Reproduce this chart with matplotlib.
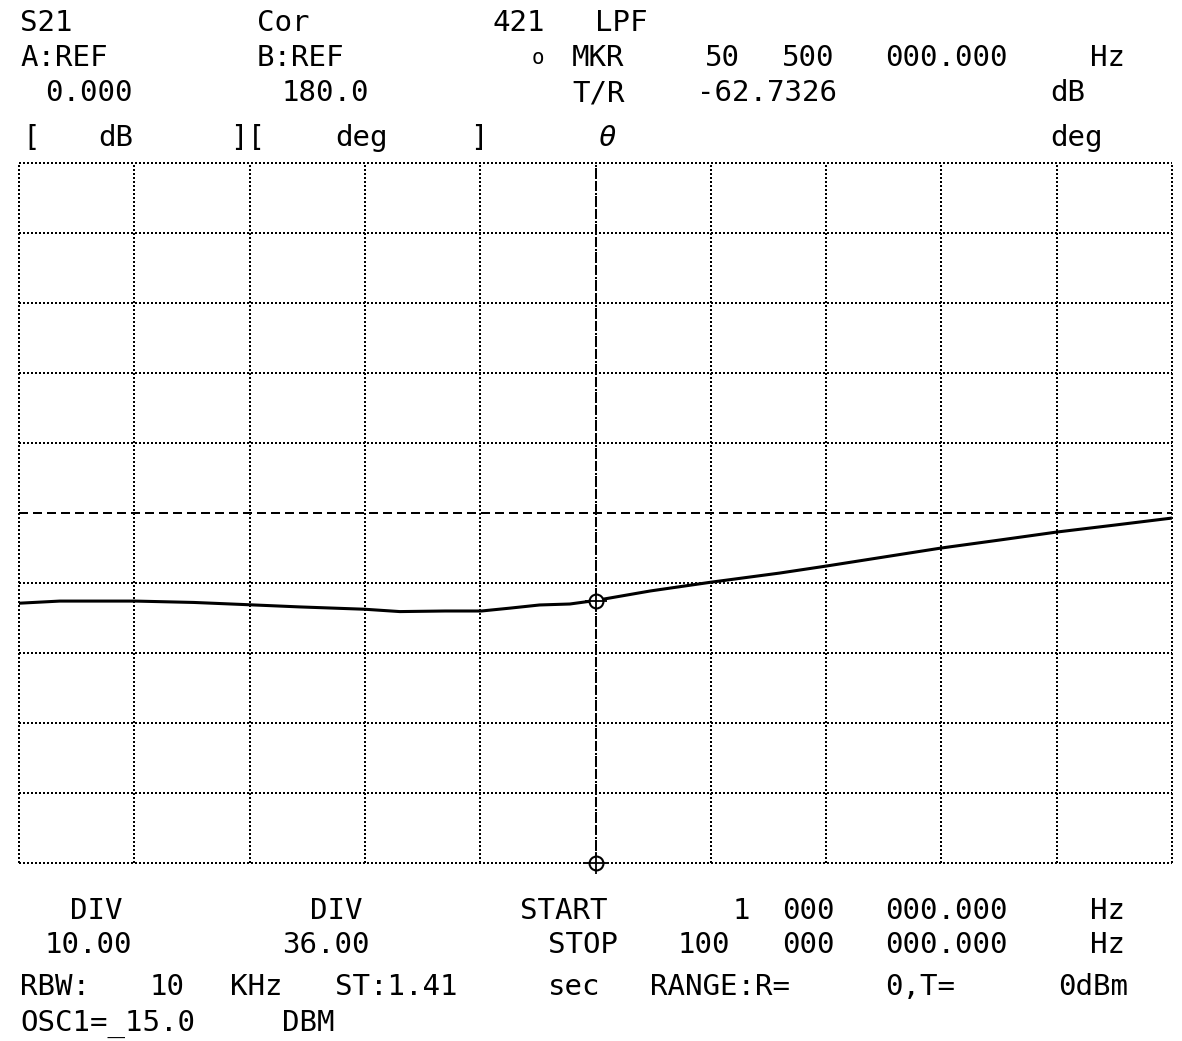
import matplotlib
matplotlib.use("Agg")
import matplotlib.pyplot as plt
import numpy as np

freq_mhz = [1, 4.5, 11, 16, 20.8, 25.1, 30.7, 33.7, 37.6, 40.7, 43.2, 45.7, 48.3,
            50.5, 55.2, 60.4, 66.3, 70.3, 75.3, 80.2, 85.2, 90.1, 95.1, 100]
phase_deg = [133.6, 134.7, 134.7, 134.0, 132.8, 131.7, 130.5, 129.3, 129.6, 129.6,
             131.1, 132.7, 133.2, 135.0, 139.9, 144.4, 149.1, 152.7, 157.4, 162.0,
             166.1, 170.2, 173.8, 177.4]
marker_mhz = 50.5
marker_deg = 135.0
start_mhz, stop_mhz = 1, 100
ref_deg, div_deg = 180.0, 36.0
n_div = 10

W, H = 1182, 1041
fig = plt.figure(figsize=(W / 100, H / 100), dpi=100)
fig.patch.set_facecolor("white")

# axes placed in pixel geometry of the screen
L, T, R, B = 19, 163, 1172, 863
ax = fig.add_axes([L / W, 1 - B / H, (R - L) / W, (B - T) / H])
ax.set_xlim(start_mhz, stop_mhz)
ylo = ref_deg - div_deg * n_div / 2
yhi = ref_deg + div_deg * n_div / 2
ax.set_ylim(ylo, yhi)
ax.axis("off")

dot = dict(color="black", lw=1.3, linestyle=(0, (1.0, 1.3)), clip_on=False, zorder=1,
           antialiased=False)
dash = dict(color="black", lw=1.3, linestyle=(0, (4.5, 2.8)), clip_on=False, zorder=1,
            antialiased=False)

for xv in np.linspace(start_mhz, stop_mhz, n_div + 1):
    ax.axvline(xv, **dot)
for yv in np.linspace(ylo, yhi, n_div + 1):
    if np.isclose(yv, ref_deg):
        ax.axhline(yv, **dash)
    else:
        ax.axhline(yv, **dot)
ax.axvline(marker_mhz, **dash)

ax.plot(freq_mhz, phase_deg, color="black", lw=2.2, zorder=3, solid_capstyle="butt")

for yv in (marker_deg, ylo):
    ax.plot([marker_mhz], [yv], marker="o", ms=10, mfc="white", mec="black", mew=1.5,
            zorder=4, clip_on=False)
    ax.plot([marker_mhz], [yv], marker="+", ms=16, mec="black", mew=1.3, zorder=5,
            clip_on=False)

# ---- screen annotations ----
FONT = "DejaVu Sans Mono"
FS = 21


def put(x, y, s, **kw):
    fig.text(x / W, 1 - y / H, s, fontsize=FS, family=FONT, va="baseline", ha="left",
             color="black", **kw)


# header
put(20, 31, "S21"); put(257, 31, "Cor"); put(493, 31, "421"); put(595, 31, "LPF")
put(20, 66, "A:REF"); put(257, 66, "B:REF")
fig.text(538 / W, 1 - 58 / H, "o", fontsize=15, family=FONT, ha="center", va="center")
put(572, 66, "MKR"); put(705, 66, "50"); put(782, 66, "500"); put(885, 66, "000.000")
put(1090, 66, "Hz")
put(45, 101, "0.000"); put(282, 101, "180.0"); put(572, 101, "T/R")
put(697, 101, "-62.7326"); put(1050, 101, "dB")
put(22, 146, "["); put(98, 146, "dB"); put(230, 146, "]["); put(335, 146, "deg")
put(470, 146, "]")
put(598, 146, "θ", style="italic")
put(1050, 146, "deg")

# footer
put(70, 919, "DIV"); put(310, 919, "DIV"); put(520, 919, "START")
put(733, 919, "1"); put(782, 919, "000"); put(885, 919, "000.000"); put(1090, 919, "Hz")
put(45, 953, "10.00"); put(282, 953, "36.00"); put(548, 953, "STOP")
put(678, 953, "100"); put(782, 953, "000"); put(885, 953, "000.000"); put(1090, 953, "Hz")
put(20, 995, "RBW:"); put(150, 995, "10"); put(230, 995, "KHz"); put(335, 995, "ST:1.41")
put(548, 995, "sec"); put(650, 995, "RANGE:R="); put(885, 995, "0,T="); put(1058, 995, "0dBm")
put(20, 1031, "OSC1=_15.0"); put(282, 1031, "DBM")

fig.savefig("out.png", dpi=100, facecolor="white")
